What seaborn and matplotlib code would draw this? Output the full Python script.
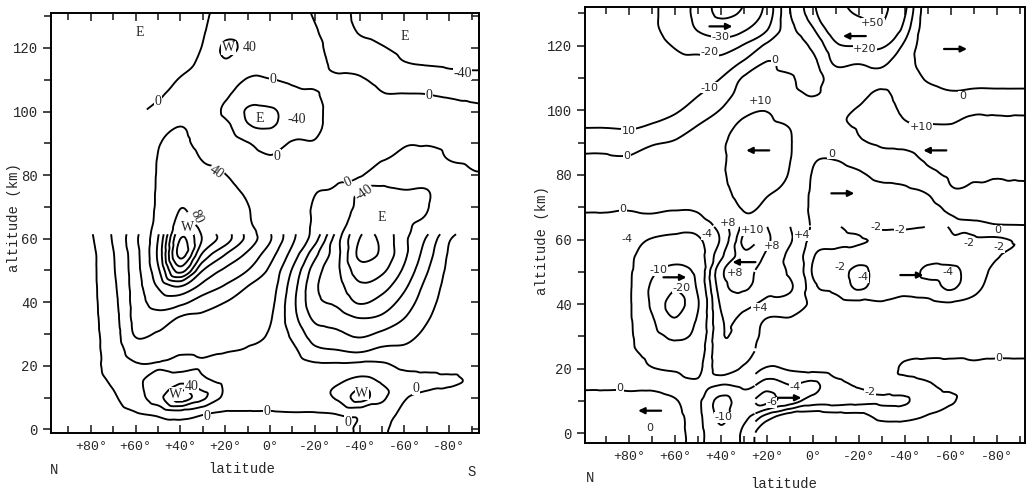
import numpy as np
import matplotlib
matplotlib.use("Agg")
import matplotlib.pyplot as plt
import matplotlib.tri as mtri
import seaborn as sns

# grid the profiles were read on
alt_km = np.arange(0, 136, 5)
lat_deg = np.arange(90, -91, -10)

# zonal wind (left panel, m/s), one profile per latitude, altitudes 0..135 km
zonal_p90 = [-3, -4, -4, -4, -4, -4, -4, -4, -4, -4, -4, -4, -4, -5, -6, -7, -8, -9, -10, -12, -14, -16, -18, -20, -22, -24, -25, -25]
zonal_p80 = [-3, -3, -3, -2, -2, -2, -2, -2, -2, -2, -2, -2, -1, 0, 1, 2, 2, 2, 1, -2, -6, -10, -14, -18, -20, -22, -24, -24]
zonal_p70 = [-3, -3, -1, 1, 3, 4, 5, 6, 7, 8, 9, 9.5, 11, 12, 12, 11, 10, 9, 6, 2, -4, -9, -14, -17, -20, -22, -23, -23]
zonal_p60 = [-3, -0.5, 6, 8, 9, 15, 21, 23, 24, 25, 26, 26.5, 28, 25, 22, 20, 18, 15, 10, 3, -4, -10, -15, -18, -20, -22, -24, -24]
zonal_p50 = [-4, 2, 16, 14, 9.5, 14, 19, 26, 34, 41, 48, 52, 50, 46, 44, 43, 42, 41, 38, 28, 10, -4, -12, -17, -20, -22, -23, -23]
zonal_p40 = [-3, 5, 35, 18, 7, 12, 16, 19, 33, 50, 84, 103, 100, 88, 79, 70, 60, 52, 45, 40.5, 28, 15, 2, -8, -15, -20, -22, -22]
zonal_p30 = [-3, 1, 22, 12, 9, 12, 15, 18, 25, 37, 50, 68, 79, 72, 62, 55, 46, 39, 32, 27, 22, 17, 12, 7, 2, -3, -7, -9]
zonal_p20 = [-3, -1, 8, 8.5, 8, 10.5, 13, 16, 20, 29, 38, 50, 65, 60, 53, 46, 40.5, 34, 28, 12, -6, 5, 18, 35, 46, 30, 18, 12]
zonal_p10 = [-3, -1, 7, 8, 7, 9.5, 12, 15, 17, 20, 30, 38, 47, 43, 41, 36, 30, 18, 2, -35, -44, -22, -2, 14, 30, 25, 14, 10]
zonal_0 = [-3, -1, 7, 8, 7, 6, 9, 11, 13, 15, 18, 24, 31, 27, 25, 20, 12, 4, -15, -41, -45, -20, -1, 10, 20, 18, 10, 6]
zonal_m10 = [-3, -0.5, 8, 8, 5, 2, -2, -6, -7, -5, -1, 6, 12, 12, 12, 11, 10, 8, 3, -20, -25, -8, 4, 15, 22, 20, 12, 8]
zonal_m20 = [-3, -0.5, 8, 8, 2, -8, -15, -22, -27, -28, -25, -17, -6, -3, -2, 1, 5, 6, 2, -8, -10, -3, 5, 9, 8, 3, -2, -6]
zonal_m30 = [-3, 0.5, 11, 9, 2, -10, -18, -25, -32, -36, -38, -37, -36, -25, -12, -4, 4, 10, 15, 17, 17, 14, 4, -6, -14, -18, -20, -20]
zonal_m40 = [1, 2, 24, 13, 3, -12, -22, -30, -41, -48, -55, -62, -60, -55, -48, -42, 4, 10, 14, 16, 15, 12, 3, -10, -28, -42, -50, -52]
zonal_m50 = [1, 4, 12, 9, 2, -8, -18, -28, -36, -44, -52, -58, -58, -55, -50, -45, -25, 2, 8, 9, 7, 2, -8, -25, -38, -48, -55, -56]
zonal_m60 = [-3, -2, 0.8, 4, -2, -8, -14, -20, -26, -32, -38, -42, -42, -42, -42, -41, -20, -5, 1, 4, 5, 1.5, -14, -38, -46, -52, -56, -56]
zonal_m70 = [-4, -4, -2, 2, -2, -5, -8, -11, -14, -17, -21, -25, -29, -37, -41, -41, -25, -8, 1, 5, 6, 1, -15, -42, -48, -52, -55, -55]
zonal_m80 = [-4, -4, -3, 1, -2, -3, -4, -5, -6, -7, -8, -9, -11, -20, -25, -22, -10, 0.5, 3, 5, 4, -2, -25, -45, -50, -52, -53, -53]
zonal_m90 = [-4, -4, -3, -0.5, -2, -2, -3, -3, -3, -4, -4, -5, -6, -12, -16, -12, -2, 2, 3, 4, 2, -4, -28, -46, -50, -52, -52, -52]

# meridional wind (right panel, m/s), same grid
merid_p90 = [3, 3, 2, -1, -3, -3, -3, -3, -3, -3, -3, -3, -3, -2, 1, 3, 3, 1, -3, -10.5, -13, -14, -15, -16, -17, -18, -18, -18]
merid_p80 = [3, 3, 1.5, -1, -3, -3.5, -3.5, -3.5, -3.5, -3.5, -3.5, -3.5, -3, -1.5, 0.5, 3, 4, 1, -5, -11, -14, -15, -15, -16, -17, -18, -18, -18]
merid_p70 = [2, 2, 1.5, -1, -3.8, -5, -7, -9, -11, -11, -9, -6, -4.2, -1.5, 1, 4, 5, 3, -1, -9, -13, -15, -16, -17, -18, -19, -19, -19]
merid_p60 = [1, 1, 0.3, -2, -4.5, -8, -11, -19, -24, -19, -12, -8, -5, -2, 0.5, 3, 5, 5, 1, -6, -11, -14, -16, -18, -20.5, -23, -24, -24]
merid_p50 = [-2, -2.5, -3, -3.5, -5, -6.5, -8, -9, -10.5, -9, -8, -6, -4.5, -2, 1, 4, 6, 8, 6, 0.5, -6, -10.5, -14, -17, -24, -30.5, -33, -33]
merid_p40 = [-9, -11, -12, -4, 2, 3, 3.5, 3.5, 4.5, 6, 7, 3, 0.5, 2, 6, 8, 9, 9, 9, 6, 0.5, -5, -10, -16, -26, -34, -42, -44]
merid_p30 = [-3, -5, -6, -3, -0.5, 1, 2, 3, 5, 8.5, 9, 9.5, 10.5, 9, 10.5, 12, 13, 13.5, 13, 12, 8, 4, 1, -9, -19, -31, -38, -41]
merid_p20 = [2.5, -1, -6.5, -5, -2.2, -1, -0.8, -0.3, 3, 5, 6, 7.5, 8.5, 8, 9, 10.5, 11, 11.5, 11.5, 11, 9.8, 7, 3, 0.2, -8, -20.5, -26, -28]
merid_p10 = [2.2, 1.5, -5, -4, -1.8, -1, -0.8, -0.3, 2, 4.5, 3.5, 3, 4.5, 4, 5, 8, 9.5, 10.2, 10.3, 9.8, 7, 3, 1, -3, -5, -3, -0.5, 1]
merid_0 = [2.2, 1.5, -3, -4.5, -1.5, -1, -0.8, -0.6, -0.5, -1.5, -2.2, -1.8, -1, -0.5, -1, -1, -0.5, 1, 5, 6, 4, -0.5, -4, -2, 2, 9, 16, 18]
merid_m10 = [2, 1, -2.8, -2.5, -1.2, -1, -1, -1, -1.2, -2.5, -3, -2.5, -1.5, -2, -4, -4, -2, 0.3, 5, 9, 8, 3, 5, 12, 18, 28, 40, 45]
merid_m20 = [2, 0.8, -2.5, -1.8, -1, -1, -1, -1, -1.5, -4.2, -4.5, -3, -1.8, -3, -4, -3, -1, 3, 9, 10.5, 10.5, 8, 6, 11, 20.5, 38, 52, 58]
merid_m30 = [1.5, -0.5, -2.3, -1, -1, -1, -1, -1, -1.8, -3, -3, -2.5, -2.2, -5, -4, -2, 2, 7, 11, 12, 12, 11, 8, 12, 22, 45, 55, 58]
merid_m40 = [1.5, -0.5, -2.2, -0.8, 0.3, -0.5, -1, -1, -1.5, -2.5, -2.8, -2.5, -2.2, -5, -5, -1.5, 3, 8, 11, 10.5, 9, 7, 5, 4, 8, 15, 21, 24]
merid_m50 = [1.5, 0.2, -0.8, -0.2, 0.6, -0.4, -1, -1, -1.5, -3, -4.5, -3, -2.2, -4, -3, 1, 8, 11, 12, 10.5, 7, 3, -1, -4, -6, -6, -6, -6]
merid_m60 = [2, 1.5, -0.3, 0.5, 0.8, -0.5, -1, -1, -1.8, -4.2, -4.5, -3, -2.2, -1.5, 2, 9, 11, 12, 12, 10.5, 6, 1, -3, -5, -6, -6, -6, -6]
merid_m70 = [2, 2, 1.5, 1, 0.5, -0.5, -1, -1, -1.5, -2.5, -3, -2.5, -2.2, -0.8, 5, 9, 10.5, 12, 12, 11, 9, 2, -3, -5, -6, -6, -6, -6]
merid_m80 = [2, 2, 1.5, 1, 0.5, -0.3, -1, -1, -1, -1.2, -1.5, -2.1, -2.2, 0.2, 5, 9, 10.2, 11, 11, 10.8, 9, 2, -3, -5, -6, -6, -6, -6]
merid_m90 = [2, 2, 1.5, 1, 0.5, -0.3, -1, -1, -1, -1, -1.2, -1.5, -1.8, 0.3, 4.5, 9, 10.3, 11, 11, 10.8, 9, 2, -3, -5, -6, -6, -6, -6]

zonal_cols = [zonal_p90, zonal_p80, zonal_p70, zonal_p60, zonal_p50, zonal_p40, zonal_p30,
              zonal_p20, zonal_p10, zonal_0, zonal_m10, zonal_m20, zonal_m30, zonal_m40,
              zonal_m50, zonal_m60, zonal_m70, zonal_m80, zonal_m90]
merid_cols = [merid_p90, merid_p80, merid_p70, merid_p60, merid_p50, merid_p40, merid_p30,
              merid_p20, merid_p10, merid_0, merid_m10, merid_m20, merid_m30, merid_m40,
              merid_m50, merid_m60, merid_m70, merid_m80, merid_m90]

# contour levels
zonal_fine_levels = [-60, -50, -30, -20, -10, 10, 20, 30, 50, 60, 70, 90, 100]
zonal_main_levels = [-40, 0, 40, 80]
merid_upper_levels = [-40, -30, -20, -10, 0, 10, 20, 50]
merid_north_levels = [-20, -10, -4, 0, 4, 8, 10]
merid_south_levels = [-6, -4, -2, 0, 4, 8]

# contour labels (text, lat, alt, rotation)
zonal_labels = [("E", 58, 125, 0), ("W", 18.5, 120, 0), ("40", 9, 120, 0), ("0", 50, 103, 0),
                ("E", -60, 123.5, 0), ("-40", -86, 112, 0), ("0", -71, 105, 0), ("0", -1.5, 110, 0),
                ("E", 4.5, 97.8, 0), ("-40", -12, 97.5, 0), ("0", -3, 86, 0), ("40", 24, 81, -35),
                ("80", 33, 67, -65), ("W", 37, 63.5, 0), ("0", -35, 77.6, 25), ("-40", -42, 74.5, 35),
                ("E", -50, 66.5, 0), ("W", 42, 11, 0), ("40", 35, 13.6, 0), ("W", -41, 11.4, 0),
                ("0", 28, 4, 0), ("0", 1.5, 5.7, 0), ("0", -35, 2.3, 0), ("0", -65, 13, 0)]
merid_labels = [("-30", 40, 122.6), ("-20", 45, 118), ("-10", 45, 107), ("10", 80, 93.5), ("0", 81, 86),
                ("0", 16.5, 115.5), ("+10", 23, 103), ("+50", -26, 127), ("+20", -22.6, 119),
                ("0", -65, 104.3), ("+10", -47, 94.8), ("0", -8, 86.6), ("0", -80.5, 62.8),
                ("0", 82.6, 69.3), ("-2", -27.6, 63.8), ("-2", -37.8, 62.8), ("-2", -68, 59),
                ("-2", -81, 57.6), ("+4", 4.8, 61.3), ("-4", 81, 60.3), ("-4", 46, 61.6),
                ("+8", 37, 65), ("+10", 26.5, 62.8), ("+8", 18, 58), ("+8", 34, 49.5),
                ("+4", 23, 38.7), ("-10", 67, 50.5), ("-20", 57, 45), ("0", 84, 14), ("0", 71, 1.5),
                ("-10", 39, 5), ("-6", 18, 9.6), ("-4", 8, 14.3), ("-2", -25, 12.8), ("0", -81, 23.2),
                ("-2", -11.7, 51.5), ("-4", -21.7, 48.3), ("-4", -58.7, 49.9)]
# arrows (lat, alt, +1 = pointing south/right, -1 = pointing north/left)
merid_arrows = [(40, 126, 1), (-18, 123, -1), (-62, 119, 1), (24, 87.6, -1), (-53, 87.6, -1),
                (-13, 74.3, 1), (60, 48.3, 1), (30, 53, -1), (-43, 49, 1), (71, 7, -1), (10, 11, 1)]

lat_ticks = [80, 60, 40, 20, 0, -20, -40, -60, -80]
lat_ticklabels = ["+80°", "+60°", "+40°", "+20°", "0°", "-20°", "-40°", "-60°", "-80°"]
alt_ticks = [0, 20, 40, 60, 80, 100, 120]


def smooth_field(cols):
    z = np.column_stack(cols).astype(float)
    z = np.pad(z, ((1, 0), (1, 1)), mode="edge")
    lat = np.concatenate([[100], lat_deg, [-100]]).astype(float)
    alt = np.concatenate([[-5], alt_km]).astype(float)
    # ascending latitude for an anticlockwise triangulation
    lat = lat[::-1]
    z = z[:, ::-1]
    LA, AL = np.meshgrid(lat, alt)
    ny, nx = z.shape
    tris = []
    for j in range(ny - 1):
        for i in range(nx - 1):
            a = j * nx + i
            tris.append([a, a + 1, a + nx])
            tris.append([a + 1, a + nx + 1, a + nx])
    tri = mtri.Triangulation(LA.ravel(), AL.ravel(), np.array(tris))
    interp = mtri.CubicTriInterpolator(tri, z.ravel(), kind="geom")
    lf = np.linspace(-99.8, 99.8, 500)
    af = np.linspace(-4.9, 134.9, 330)
    LF, AF = np.meshgrid(lf, af)
    return LF, AF, interp(LF, AF)


sns.set_style("ticks")
plt.rcParams["font.family"] = ["Liberation Mono", "DejaVu Sans Mono"]
plt.rcParams["contour.negative_linestyle"] = "solid"

W, H = 1027, 491
fig = plt.figure(figsize=(W / 100, H / 100), dpi=100)
ax1 = fig.add_axes([51 / W, 1 - 432.5 / H, 428 / W, 419.5 / H])
ax2 = fig.add_axes([585 / W, 1 - 443 / H, 440 / W, 436 / H])

line_kw = dict(colors="black", linewidths=1.35)

# left panel
LF, AF, U = smooth_field(zonal_cols)
ax1.contour(LF, AF, np.ma.masked_where(AF > 61.5, U), levels=zonal_fine_levels, **line_kw)
ax1.contour(LF, AF, np.ma.masked_where((LF > 55) & (AF > 61.5) & (AF < 102), U),
            levels=zonal_main_levels, **line_kw)
for txt, la, al, rot in zonal_labels:
    ax1.text(la, al, txt, ha="center", va="center", rotation=rot, fontsize=10,
             family=["Liberation Serif", "DejaVu Serif"],
             bbox=dict(fc="white", ec="none", pad=0.4))

# right panel
LF, AF, V = smooth_field(merid_cols)
ax2.contour(LF, AF, np.ma.masked_where(AF < 64, V), levels=merid_upper_levels, **line_kw)
ax2.contour(LF, AF, np.ma.masked_where((AF >= 64) | (LF <= 25), V), levels=merid_north_levels, **line_kw)
ax2.contour(LF, AF, np.ma.masked_where((AF >= 64) | (LF > 25), V), levels=merid_south_levels, **line_kw)
for txt, la, al in merid_labels:
    ax2.text(la, al, txt, ha="center", va="center", fontsize=8,
             family=["DejaVu Sans"], bbox=dict(fc="white", ec="none", pad=0.3))
for la, al, d in merid_arrows:
    ax2.annotate("", xy=(la - 5 * d, al), xytext=(la + 5 * d, al),
                 arrowprops=dict(arrowstyle="-|>", color="black", lw=1.6,
                                 mutation_scale=9, shrinkA=0, shrinkB=0))

for ax, xlim, ylim in [(ax1, (97.8, -93.3), (-1, 131)), (ax2, (99.1, -92.2), (-3, 132))]:
    ax.set_xlim(*xlim)
    ax.set_ylim(*ylim)
    ax.set_xticks(lat_ticks)
    ax.set_xticklabels(lat_ticklabels)
    ax.set_xticks(np.arange(-90, 91, 10), minor=True)
    ax.set_yticks(alt_ticks)
    ax.set_yticks(np.arange(0, 131, 10), minor=True)
    ax.tick_params(axis="x", which="both", direction="in", top=True, bottom=True,
                   labelsize=9.5, pad=6)
    ax.tick_params(axis="x", which="major", length=6, width=1.2)
    ax.tick_params(axis="x", which="minor", length=5, width=1.2)
    ax.tick_params(axis="y", which="both", direction="out", left=True, right=False,
                   labelsize=10, width=1.2)
    ax.tick_params(axis="y", which="major", length=6)
    ax.tick_params(axis="y", which="minor", length=5)
    for s in ax.spines.values():
        s.set_linewidth(1.4)
        s.set_color("black")

sec = ax1.secondary_yaxis("right")
sec.set_yticks(np.arange(0, 131, 10))
sec.tick_params(direction="in", length=6, width=1.2, labelright=False)
sec.spines["right"].set_linewidth(1.4)

lab_kw = dict(fontsize=10, family=["Liberation Mono", "DejaVu Sans Mono"])
fig.text(14 / W, 1 - 218 / H, "altitude (km)", rotation=90, ha="center", va="center", **lab_kw)
fig.text(542 / W, 1 - 241 / H, "altitude (km)", rotation=90, ha="center", va="center", **lab_kw)
fig.text(242 / W, 1 - 469 / H, "latitude", ha="center", va="center", **lab_kw)
fig.text(784 / W, 1 - 484 / H, "latitude", ha="center", va="center", **lab_kw)
fig.text(54 / W, 1 - 470 / H, "N", ha="center", va="center", **lab_kw)
fig.text(472 / W, 1 - 472 / H, "S", ha="center", va="center", **lab_kw)
fig.text(590 / W, 1 - 478 / H, "N", ha="center", va="center", **lab_kw)

fig.savefig("out.png", dpi=100)
